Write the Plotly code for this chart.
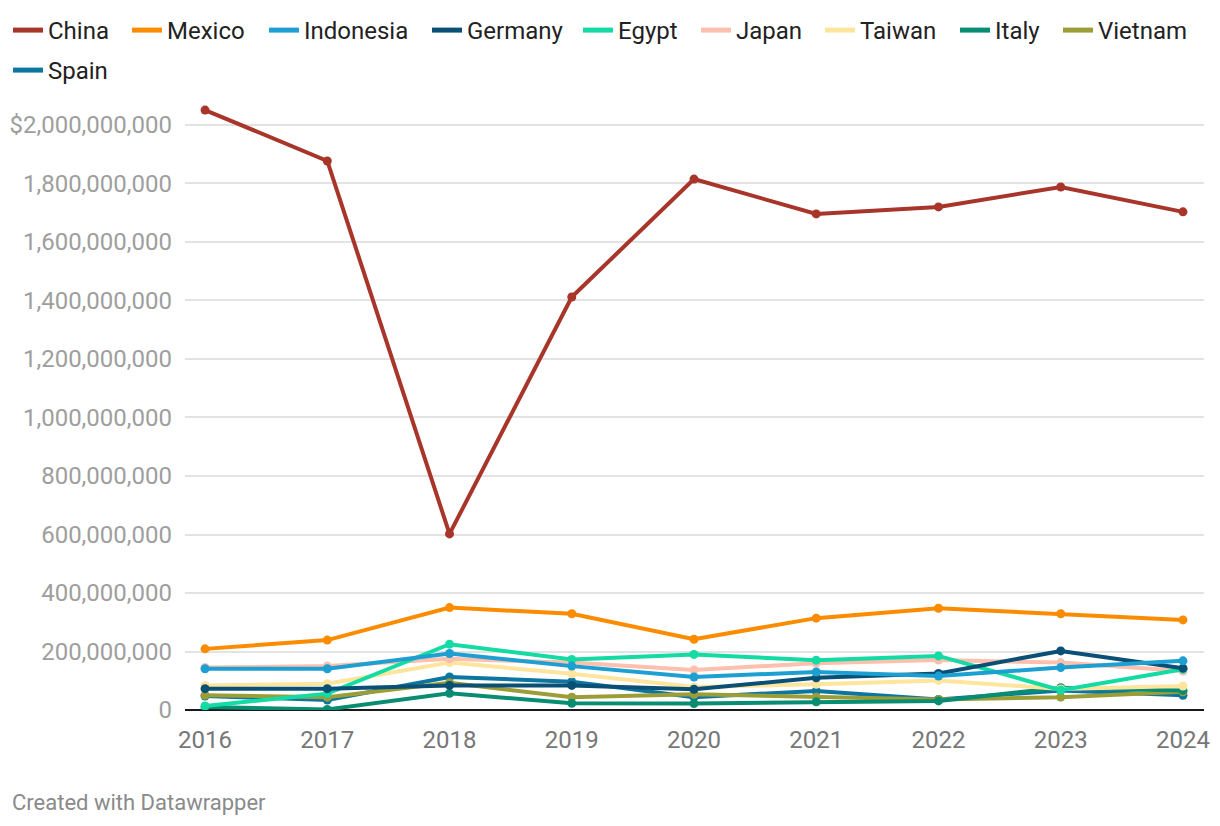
import plotly.graph_objects as go

years = [2016, 2017, 2018, 2019, 2020, 2021, 2022, 2023, 2024]

china     = [2051e6, 1877e6, 602e6, 1412e6, 1815e6, 1696e6, 1720e6, 1788e6, 1703e6]
mexico    = [209e6, 239e6, 350e6, 329e6, 242e6, 314e6, 348e6, 329e6, 308e6]
indonesia = [141e6, 141e6, 193e6, 150e6, 113e6, 130e6, 116e6, 145e6, 168e6]
germany   = [73e6, 73e6, 84e6, 84e6, 71e6, 110e6, 125e6, 202e6, 143e6]
egypt     = [14e6, 56e6, 225e6, 173e6, 190e6, 170e6, 185e6, 68e6, 139e6]
japan     = [145e6, 150e6, 175e6, 162e6, 137e6, 160e6, 171e6, 162e6, 133e6]
taiwan    = [84e6, 90e6, 162e6, 124e6, 79e6, 88e6, 101e6, 72e6, 82e6]
italy     = [10e6, 2e6, 57e6, 23e6, 22e6, 28e6, 31e6, 76e6, 67e6]
vietnam   = [50e6, 44e6, 93e6, 44e6, 54e6, 44e6, 36e6, 44e6, 62e6]
spain     = [48e6, 34e6, 113e6, 97e6, 44e6, 65e6, 36e6, 67e6, 50e6]

series_names = ["China", "Mexico", "Indonesia", "Germany", "Egypt", "Japan",
                "Taiwan", "Italy", "Vietnam", "Spain"]
series_values = [china, mexico, indonesia, germany, egypt, japan,
                 taiwan, italy, vietnam, spain]
series_colors = ["#a8352a", "#fb8c00", "#1d9fd1", "#0a4f75", "#14dba3", "#fec0ae",
                 "#fee59d", "#088c72", "#9b9e37", "#0c76a1"]

y_tickvals = [0, 200e6, 400e6, 600e6, 800e6, 1000e6, 1200e6, 1400e6, 1600e6, 1800e6, 2000e6]
y_ticktext = ["0", "200,000,000", "400,000,000", "600,000,000", "800,000,000",
              "1,000,000,000", "1,200,000,000", "1,400,000,000", "1,600,000,000",
              "1,800,000,000", "$2,000,000,000"]
x_ticktext = [str(y) for y in years]

W, H = 1212, 818

# legend label start positions (pixels) and row
legend_text_px = [48, 168, 305, 468, 619, 737, 861, 996, 1099, 48]
legend_row = [0, 0, 0, 0, 0, 0, 0, 0, 0, 1]

def legend_key(i):
    return "legend" if i == 0 else f"legend{i + 1}"

fig = go.Figure()
for i in reversed(range(len(series_names))):
    fig.add_trace(go.Scatter(
        x=years, y=series_values[i], name=series_names[i],
        mode="lines+markers",
        line=dict(color=series_colors[i], width=4),
        marker=dict(color=series_colors[i], size=9),
        showlegend=False,
    ))
# line-only keys for the legend
for i in range(len(series_names)):
    fig.add_trace(go.Scatter(
        x=[None], y=[None], name=series_names[i], mode="lines",
        line=dict(color=series_colors[i], width=5),
        legend=legend_key(i), showlegend=True, hoverinfo="skip",
    ))

legend_layouts = {}
for i in range(len(series_names)):
    legend_layouts[legend_key(i)] = dict(
        orientation="h", xref="container", yref="container",
        xanchor="left", yanchor="top",
        x=max(0.0, (legend_text_px[i] - 49) / W),
        y=1.0 if legend_row[i] == 0 else (1 - 40 / H),
        font=dict(size=24, color="#222222"),
        itemwidth=30, bgcolor="rgba(0,0,0,0)",
    )

fig.update_layout(
    width=W, height=H,
    paper_bgcolor="white", plot_bgcolor="white",
    margin=dict(l=177, r=16, t=93, b=116, autoexpand=False),
    font=dict(family="Roboto", color="#333333"),
    showlegend=True,
    xaxis=dict(
        range=[2015.836, 2024.172],
        tickvals=years, ticktext=x_ticktext,
        showgrid=False, zeroline=False, showline=False,
        ticks="outside", ticklen=8, tickcolor="rgba(0,0,0,0)",
        tickfont=dict(size=24, color="#777777"),
        automargin=False, fixedrange=True,
    ),
    yaxis=dict(
        range=[0, 2.082e9],
        tickvals=y_tickvals, ticktext=y_ticktext,
        showgrid=True, gridcolor="#e3e3e3", gridwidth=1.5,
        zeroline=True, zerolinecolor="#1a1a1a", zerolinewidth=2,
        showline=False, ticks="", ticklabelstandoff=12,
        tickfont=dict(size=24, color="#9e9e9e"),
        automargin=False, fixedrange=True,
    ),
    annotations=[dict(
        text="Created with Datawrapper", xref="paper", yref="paper",
        x=-0.1717, y=-0.1527, xanchor="left", yanchor="middle", showarrow=False,
        font=dict(size=22, color="#8a8a8a"),
    )],
    **legend_layouts,
)

fig.write_html("out.html")
